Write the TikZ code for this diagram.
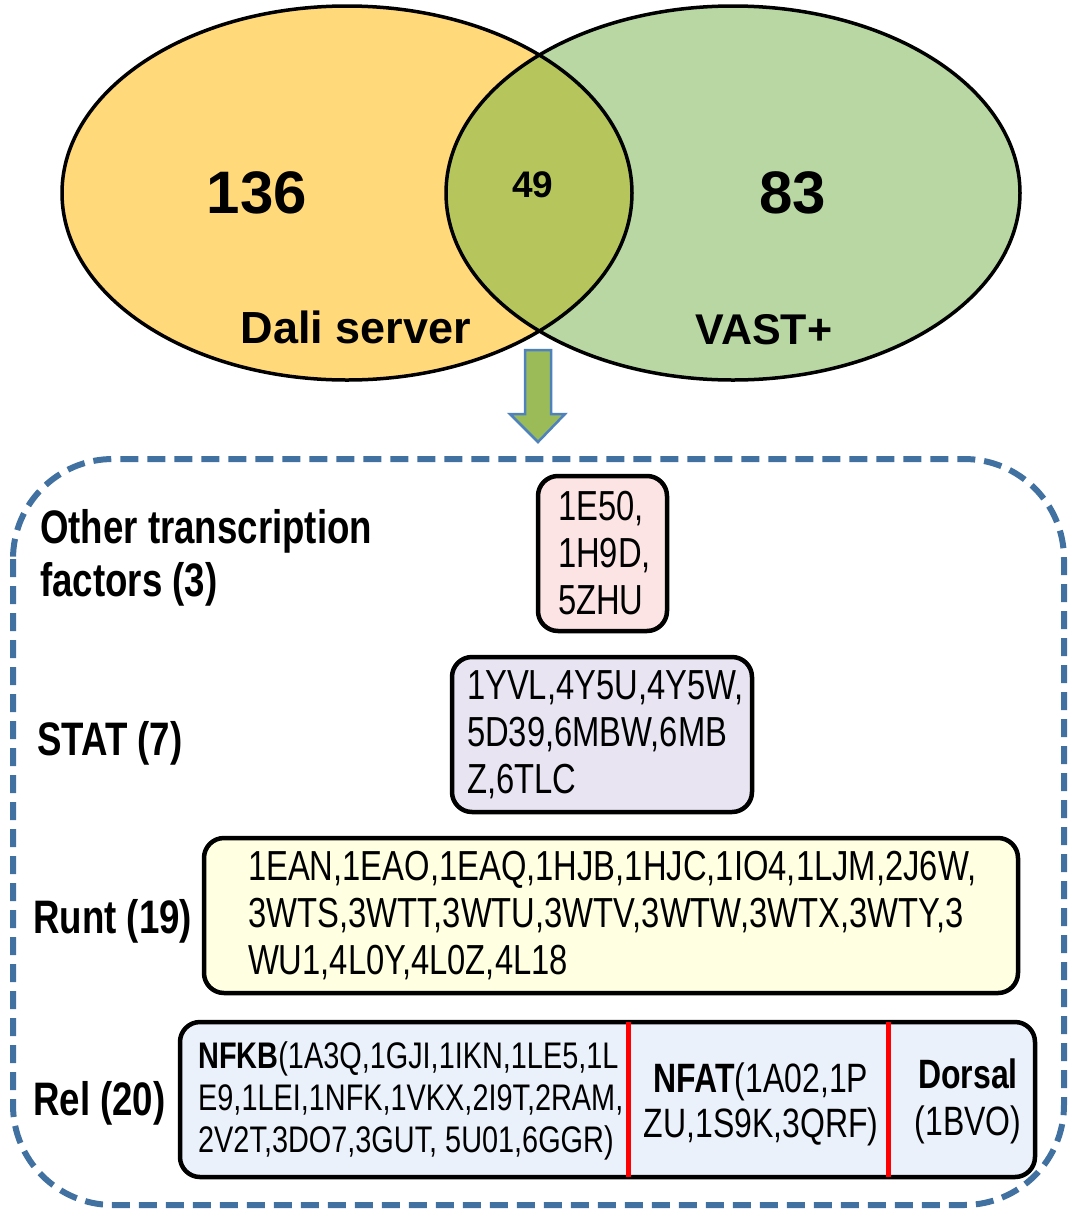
\documentclass[tikz,border=0pt]{standalone}
\usepackage{fontspec}
\setmainfont{Liberation Sans}
\newfontfamily\narrowfont[FakeStretch=0.78]{Liberation Sans}
\usepackage{tikz}
\usetikzlibrary{positioning}

\definecolor{daliyellow}{RGB}{255,217,122}
\definecolor{vastgreen}{RGB}{184,215,163}
\definecolor{bothgreen}{RGB}{182,198,92}
\definecolor{arrowfill}{RGB}{155,187,89}
\definecolor{arrowline}{RGB}{79,129,189}
\definecolor{frameblue}{RGB}{65,113,160}
\definecolor{otherpink}{RGB}{253,228,228}
\definecolor{statlilac}{RGB}{232,228,242}
\definecolor{runtcream}{RGB}{255,255,226}
\definecolor{relblue}{RGB}{234,241,250}

\tikzset{
  vennnum/.style={inner sep=0pt, font=\bfseries\fontsize{60}{72}\selectfont},
  vennname/.style={inner sep=0pt, font=\bfseries\fontsize{45}{54}\selectfont},
  famlabel/.style={anchor=west, align=left, inner sep=0pt,
    font=\narrowfont\bfseries\fontsize{47}{53}\selectfont},
  idbox/.style={draw=black, line width=4.5pt, rounded corners=20pt,
    minimum height=155pt, inner ysep=0pt, align=left,
    font=\narrowfont\fontsize{42}{47}\selectfont},
  reltext/.style={inner sep=0pt, font=\narrowfont\fontsize{37}{42}\selectfont},
  divider/.style={red, line width=5pt},
}

\begin{document}
\begin{tikzpicture}[x=1pt, y=-1pt]
    \useasboundingbox (0,0) rectangle (1068,1211);

    % Venn diagram
    \fill[daliyellow] (347,193) ellipse [x radius=285pt, y radius=187pt];
    \fill[vastgreen] (733,193) ellipse [x radius=287pt, y radius=187pt];
    \begin{scope}
        \clip (347,193) ellipse [x radius=285pt, y radius=187pt];
        \fill[bothgreen] (733,193) ellipse [x radius=287pt, y radius=187pt];
    \end{scope}
    \draw[line width=3.5pt] (347,193) ellipse [x radius=285pt, y radius=187pt];
    \draw[line width=3.5pt] (733,193) ellipse [x radius=287pt, y radius=187pt];

    \node[vennnum] (dalinum) at (257,193) {136};
    \node[vennnum, font=\bfseries\fontsize{37}{44}\selectfont] (bothnum) at (533,185) {49};
    \node[vennnum] (vastnum) at (793,193) {83};
    \node[vennname] (daliname) at (356,327) {Dali server};
    \node[vennname, font=\bfseries\fontsize{43}{52}\selectfont] (vastname) at (764,330) {VAST+};

    % Down arrow
    \draw[arrowline, fill=arrowfill, line width=2.5pt, line join=miter]
        (525,350) -- (551,350) -- (551,414) -- (565,414) -- (538,442)
        -- (510,414) -- (525,414) -- cycle;

    % Dashed frame
    \draw[frameblue, line width=6pt, dash pattern=on 18pt off 9pt, rounded corners=100pt]
        (13,459) rectangle (1064,1205);

    % Family labels
    \node[famlabel] (otherlbl) at (40,558) {Other transcription\\factors (3)};
    \node[famlabel] (statlbl) at (37,743) {STAT (7)};
    \node[famlabel] (runtlbl) at (33,921) {Runt (19)};
    \node[famlabel] (rellbl) at (33,1103) {Rel (20)};

    % Structure boxes
    \node[idbox, fill=otherpink, inner xsep=20pt, text width=89pt] (otherbox) at (602.5,553.5)
        {1E50,\\1H9D,\\5ZHU};
    \node[idbox, fill=statlilac, inner xsep=15pt, text width=270pt] (statbox) at (602,734.5)
        {1YVL,4Y5U,4Y5W,\\5D39,6MBW,6MB\\Z,6TLC};
    \node[idbox, fill=runtcream, inner xsep=44pt, text width=726pt] (runtbox) at (611,915.5)
        {1EAN,1EAO,1EAQ,1HJB,1HJC,1IO4,1LJM,2J6W,\\3WTS,3WTT,3WTU,3WTV,3WTW,3WTX,3WTY,3\\WU1,4L0Y,4L0Z,4L18};
    \node[idbox, fill=relblue, minimum width=855pt] (relbox) at (607.5,1099.5) {};

    % Rel subfamilies
    \draw[divider] ([xshift=451pt, yshift=-2pt]relbox.north west) -- ([xshift=451pt, yshift=2pt]relbox.south west);
    \draw[divider] ([xshift=711pt, yshift=-2pt]relbox.north west) -- ([xshift=711pt, yshift=2pt]relbox.south west);
    \node[reltext, anchor=west, align=left] (nfkb) at (198,1101)
        {\textbf{NFKB}(1A3Q,1GJI,1IKN,1LE5,1L\\E9,1LEI,1NFK,1VKX,2I9T,2RAM,\\2V2T,3DO7,3GUT, 5U01,6GGR)};
    \node[reltext, align=center, font=\narrowfont\fontsize{41}{45}\selectfont] (nfat) at (761,1104)
        {\textbf{NFAT}(1A02,1P\\ZU,1S9K,3QRF)};
    \node[reltext, align=center, font=\narrowfont\fontsize{41}{47}\selectfont] (dorsal) at (968,1101)
        {\textbf{Dorsal}\\(1BVO)};
\end{tikzpicture}
\end{document}
